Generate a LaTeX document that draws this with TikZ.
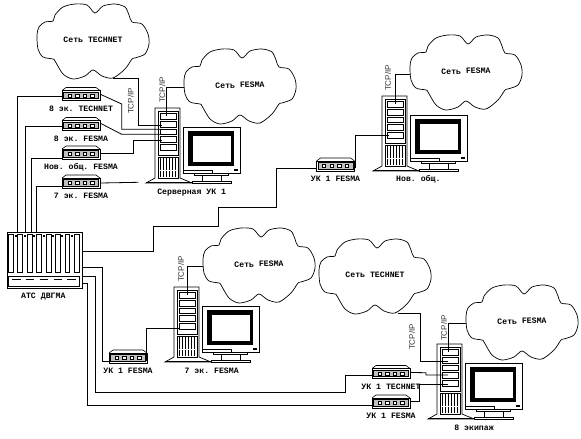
\documentclass[tikz,border=0pt]{standalone}
\usepackage{fontspec}
\setmonofont{Liberation Mono}
\setsansfont{Liberation Sans}
\usetikzlibrary{positioning}
\definecolor{lnblack}{HTML}{000000}
\definecolor{hubgray}{HTML}{C0C0C0}
\definecolor{tcptext}{HTML}{333333}
\tikzset{
  lnk/.style={draw=lnblack, line width=.8pt},
  dev/.style={draw=lnblack, line width=.7pt, fill=white},
  drv/.style={rectangle, draw=lnblack, line width=.8pt, fill=white, inner sep=0pt, minimum width=16pt, minimum height=6pt},
  hubbox/.style={rectangle, draw=lnblack, line width=.8pt, fill=white, inner sep=0pt, minimum width=38pt, minimum height=10pt},
  lbl/.style={font=\ttfamily\bfseries\fontsize{8.2}{9}\selectfont, text=lnblack, inner sep=0pt, text height=5pt, text depth=1.5pt},
  tcp/.style={font=\sffamily\fontsize{8}{9}\selectfont, text=tcptext, inner sep=0pt, rotate=90},
  cldarea/.style={inner sep=0pt, minimum width=112pt, minimum height=74pt},
  pics/netcloud/.style={code={
    \draw[lnk, line width=.7pt, fill=white] plot[smooth cycle, tension=.5] coordinates {
      (-56,-6) (-54,-14) (-48,-19) (-40,-20) (-38,-26) (-30,-34) (-18,-37) (-6,-36)
      (2,-28) (10,-35) (22,-37) (32,-34) (36,-26) (39,-19) (49,-17) (55,-7)
      (56,3) (52,13) (42,17) (39,18) (32,28) (20,37) (9,35) (0,29)
      (-8,35) (-20,38) (-30,33) (-38,20) (-40,18) (-50,16) (-55,8)};
    \node[cldarea] (-c) at (0,0) {};
  }},
  pics/hubdev/.style={code={
    \draw[lnk, line width=.6pt, fill=white] (-19,-5) -- (-15,-8) -- (15,-8) -- (19,-5);
    \node[hubbox] (-b) at (0,0) {};
    \draw[lnk, line width=1pt, fill=hubgray] (-17.5,-3.4) rectangle (17.5,3.4);
    \foreach \px in {-11.5,-3.8,3.8,11.2}
      \draw[lnk, line width=.5pt, fill=white] (\px-1.6,-1.6) rectangle (\px+1.6,1.6);
  }},
  pics/srvbox/.style={code={
    \draw[dev] (-9,75) -- (0,70) -- (0,0) -- (25,0) -- (25,70) -- (37,75) -- cycle;
    \draw[lnk] (-9,74) -- (76,74);
    \draw[dev] (3,3) rectangle (23,47);
    \node[drv] (-d1) at (13,8) {};
    \node[drv] (-d2) at (13,16) {};
    \node[drv, minimum height=5pt] (-d3) at (13,23.5) {};
    \node[drv] (-d4) at (13,31) {};
    \node[drv] (-d5) at (13,39) {};
    \draw[dev] (3,49) rectangle (23,70);
    \foreach \gx in {5,8,11,14,17,20}
      \draw[lnblack, line width=1.6pt] (\gx+.5,50) -- (\gx+.5,69);
    \draw[white, line width=.8pt] (3.5,62) -- (22.5,62);
    \draw[dev] (28,19) rectangle (85,65);
    \fill[lnblack] (33,23) rectangle (79,58);
    \fill[white] (38,28) rectangle (76,54);
    \fill[lnblack] (79,61) rectangle (83,63);
    \draw[dev] (28,62) rectangle (57,65);
    \draw[dev] (39,65) rectangle (73,67);
    \draw[dev] (47,67) rectangle (66,73);
    \draw[dev] (37,73) rectangle (76,75);
  }},
}
\begin{document}
\begin{tikzpicture}[x=1pt, y=-1pt, node distance=5pt]
  \path[use as bounding box, fill=white] (0,0) rectangle (581,439);

  % clouds
  \pic (tn1) at (93,41) {netcloud};
  \pic (fs1) at (240,86) {netcloud};
  \pic (fs2) at (466,72) {netcloud};
  \pic (fs3) at (259,265) {netcloud};
  \pic (tn2) at (375,276) {netcloud};
  \pic (fs4) at (522,322) {netcloud};
  \node[lbl] (tn1txt) at (tn1-c) {Сеть TECHNET};
  \node[lbl, rotate=2] (fs1txt) at (fs1-c) {Сеть FESMA};
  \node[lbl, rotate=2] (fs2txt) at (fs2-c) {Сеть FESMA};
  \node[lbl, rotate=2] (fs3txt) at (fs3-c) {Сеть FESMA};
  \node[lbl] (tn2txt) at (tn2-c) {Сеть TECHNET};
  \node[lbl, rotate=2] (fs4txt) at (fs4-c) {Сеть FESMA};

  % computers
  \pic (srvuk) at (155,108) {srvbox};
  \pic (srvnov) at (382,96) {srvbox};
  \pic (srv7) at (174,287) {srvbox};
  \pic (srv8) at (437,344) {srvbox};
  \node[lbl] (srvuktxt) at (191.7,192.7) {Серверная УК 1};
  \node[lbl] (srvnovtxt) at (418.3,179.7) {Нов. общ.};
  \node[lbl] (srv7txt) at (211.7,371.7) {7 эк. FESMA};
  \node[lbl] (srv8txt) at (474,429) {8 экипаж};

  % hubs
  \pic (h8t) at (81,95.5) {hubdev};
  \pic (h8f) at (81,125.5) {hubdev};
  \pic (hnov) at (81,154) {hubdev};
  \pic (h7f) at (81,183) {hubdev};
  \pic (huk) at (335.5,166) {hubdev};
  \pic (huk7) at (128,358) {hubdev};
  \pic (huk8t) at (391,373.5) {hubdev};
  \pic (huk8f) at (391,403) {hubdev};
  \node[lbl, below=of h8t-b] (h8ttxt) {8 эк. TECHNET};
  \node[lbl, below=of h8f-b] (h8ftxt) {8 эк. FESMA};
  \node[lbl, below=of hnov-b] (hnovtxt) {Нов. общ. FESMA};
  \node[lbl, below=of h7f-b] (h7ftxt) {7 эк. FESMA};
  \node[lbl, below=of huk-b] (huktxt) {УК 1 FESMA};
  \node[lbl, below=of huk7-b] (huk7txt) {УК 1 FESMA};
  \node[lbl, below=of huk8t-b] (huk8ttxt) {УК 1 TECHNET};
  \node[lbl, below=of huk8f-b] (huk8ftxt) {УК 1 FESMA};

  % exchange
  \node[rectangle, draw=lnblack, line width=.9pt, fill=white, inner sep=0pt, minimum width=75pt, minimum height=56pt] (ats) at (44.5,260) {};
  \foreach \sx in {8.3,17.8,27.2,36.7,46.1,55.6,65,74.5}
    \draw[lnk, line width=.7pt] (\sx,234) rectangle (\sx+4.8,272);
  \foreach \sx in {15.7,25,34.4,43.6,53,62.4,71.8}
    \fill[lnblack] (\sx-1,234.5) rectangle (\sx+1,236.5);
  \draw[lnk, line width=.7pt] (8,276) rectangle (79,286);
  \foreach \sx in {12,25.5,39.5,53.5,67}
    \draw[lnblack, line width=1.6pt] (\sx,279.5) -- (\sx+8.5,279.5);
  \node[lbl] (atstxt) at (43.3,296.7) {АТС ДВГМА};

  % TCP/IP
  \node[tcp] (tcp1) at (130.7,101) {TCP/IP};
  \node[tcp] (tcp2) at (162.3,90) {TCP/IP};
  \node[tcp] (tcp3) at (388,78) {TCP/IP};
  \node[tcp] (tcp4) at (181,269) {TCP/IP};
  \node[tcp] (tcp5) at (412,337) {TCP/IP};
  \node[tcp] (tcp6) at (444,328) {TCP/IP};

  % clouds to computers
  \draw[lnk] ([xshift=20pt]tn1-c.south) -| (138.3,125.7) -- ([xshift=-6pt,yshift=-1.7pt]srvuk-d2.center);
  \draw[lnk] ([yshift=-1pt]fs1-c.west) -| ([xshift=-1.3pt]srvuk-d1.center);
  \draw[lnk] ([yshift=-2pt]fs2-c.west) -| (srvnov-d1.center);
  \draw[lnk] ([yshift=-1.7pt]fs3-c.west) -| (srv7-d1.center);
  \draw[lnk] ([xshift=23pt]tn2-c.south) -| (420.7,361.7) -- ([xshift=-2pt,yshift=-1.7pt]srv8-d2.center);
  \draw[lnk] ([yshift=-1pt]fs4-c.west) -| ([xshift=-2pt]srv8-d1.center);

  % hubs to computers
  \draw[lnk] ([yshift=1.2pt]h8t-b.east) -- (121.7,104) -- (121.7,129.3) -- ([xshift=-6pt,yshift=2.2pt]srvuk-d3.center);
  \draw[lnk] ([yshift=2.2pt]h8f-b.east) -- (121.7,134.3) -- ([xshift=-6pt,yshift=-2.8pt]srvuk-d3.center);
  \draw[lnk] ([yshift=.7pt]hnov-b.east) -- (133.3,153.3) -- (133.3,140.7) -- ([xshift=-6pt,yshift=-1.7pt]srvuk-d4.center);
  \coordinate (h7end) at (138.3,182.3);
  \draw[lnk] (h7f-b.east) -- (h7end);
  \draw[lnk] ([yshift=-2pt]huk-b.east) |- ([xshift=-6pt]srvnov-d5.center);
  \draw[lnk] ([yshift=-2pt]huk7-b.east) -- (146.7,360) |- ([xshift=-7pt,yshift=-2pt]srv7-d5.center);
  \draw[lnk] ([yshift=1pt]huk8t-b.east) -- (426,372.7) |- ([xshift=-2pt]srv8-d4.center);
  \draw[lnk] ([yshift=1.3pt]huk8f-b.east) -| (419.3,384) -- ([xshift=-2pt,yshift=-1pt]srv8-d5.center);

  % hubs to exchange
  \draw[lnk] ([yshift=-1.2pt]h8t-b.west) -| ([xshift=-27.5pt]ats.north);
  \draw[lnk] ([yshift=-1.2pt]h8f-b.west) -| ([xshift=-19.5pt]ats.north);
  \draw[lnk] ([yshift=-4.7pt]hnov-b.west) -| ([xshift=-13pt]ats.north);
  \draw[lnk] ([yshift=-3.7pt]h7f-b.west) -| ([xshift=-8pt]ats.north);
  \draw[lnk] ([yshift=8.3pt]ats.east) -| (153.3,226) -| (218.3,207.3) -| (276.7,168) -- ([yshift=-2pt]huk-b.west);
  \draw[lnk] ([yshift=-7.7pt]ats.east) -| (102.3,361.7) -- ([yshift=-3.7pt]huk7-b.west);
  \draw[lnk] ([yshift=-16pt]ats.east) -| (95.7,392.3) -| (345,375) -- ([yshift=-1.5pt]huk8t-b.west);
  \draw[lnk] ([yshift=-23.3pt]ats.east) -| (87.3,405) -- ([yshift=-2pt]huk8f-b.west);
\end{tikzpicture}
\end{document}
